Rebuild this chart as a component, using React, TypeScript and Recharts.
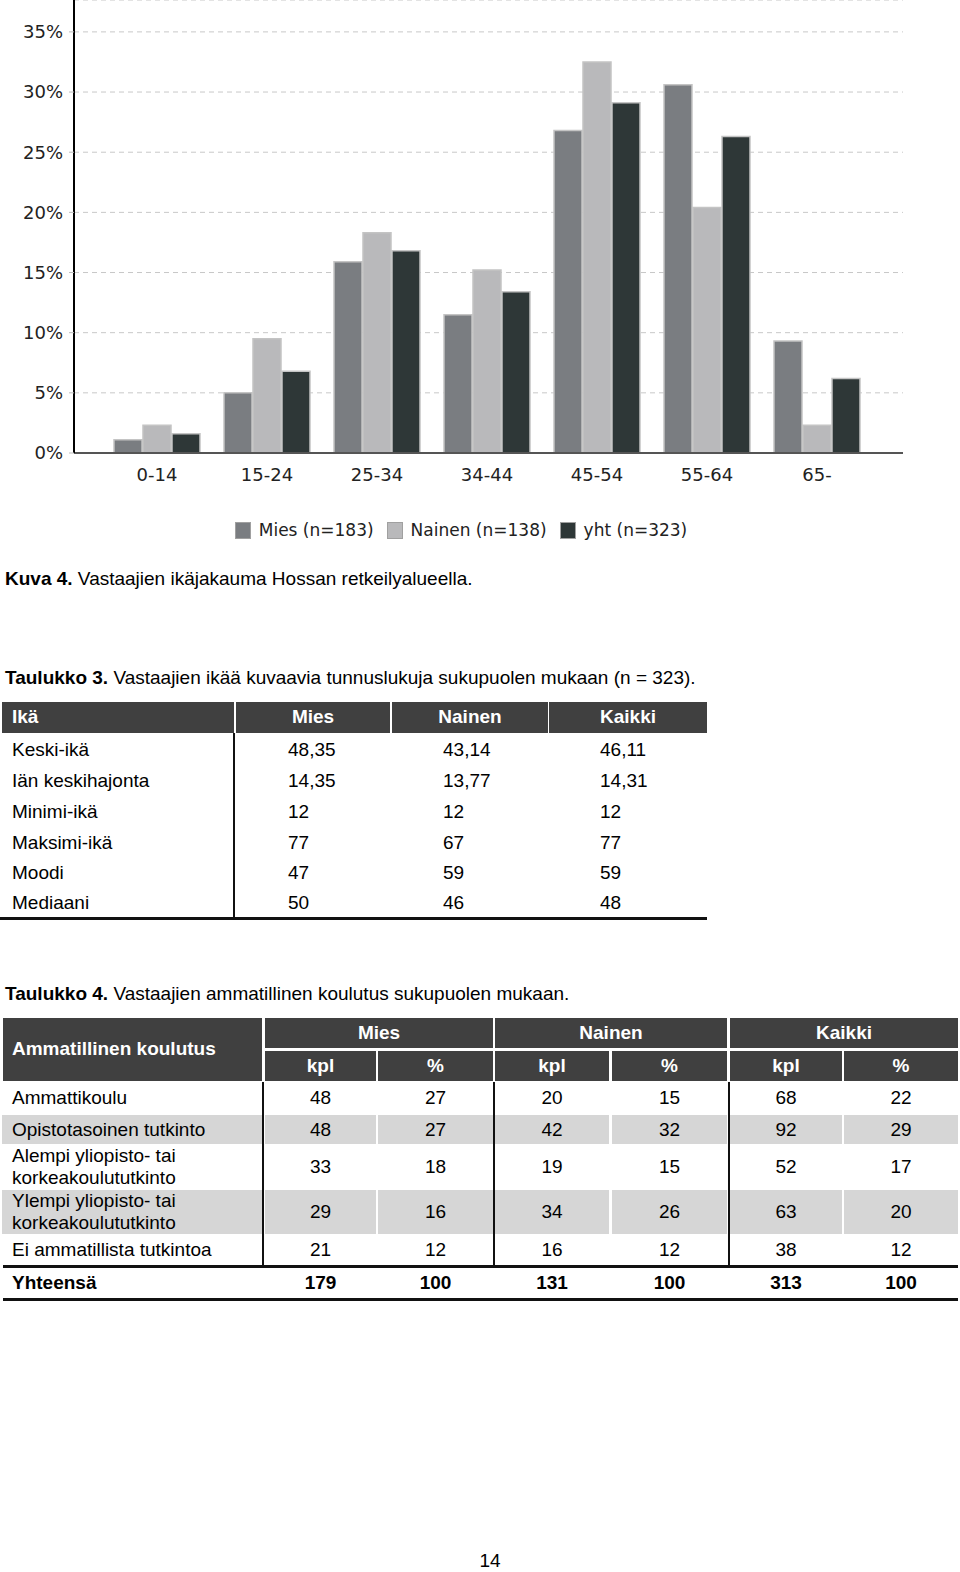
import React from 'react';
import { BarChart, Bar, XAxis, YAxis, CartesianGrid, Legend } from 'recharts';

const ageGroups = ['0-14', '15-24', '25-34', '34-44', '45-54', '55-64', '65-'];
const miesPct = [1.1, 5.0, 15.9, 11.5, 26.8, 30.6, 9.3];
const nainenPct = [2.3, 9.5, 18.3, 15.2, 32.5, 20.4, 2.3];
const yhtPct = [1.6, 6.8, 16.8, 13.4, 29.1, 26.3, 6.2];
const yTicks = [0, 5, 10, 15, 20, 25, 30, 35];

const seriesNames = ['Mies (n=183)', 'Nainen (n=138)', 'yht (n=323)'];
const seriesColors = ['#7a7d81', '#b9b9bb', '#2e3737'];

const statLabels = ['Keski-ikä', 'Iän keskihajonta', 'Minimi-ikä', 'Maksimi-ikä', 'Moodi', 'Mediaani'];
const statMies = ['48,35', '14,35', '12', '77', '47', '50'];
const statNainen = ['43,14', '13,77', '12', '67', '59', '46'];
const statKaikki = ['46,11', '14,31', '12', '77', '59', '48'];

const eduLabels = [
  ['Ammattikoulu'],
  ['Opistotasoinen tutkinto'],
  ['Alempi yliopisto- tai', 'korkeakoulututkinto'],
  ['Ylempi yliopisto- tai', 'korkeakoulututkinto'],
  ['Ei ammatillista tutkintoa'],
];
const eduMiesKpl = [48, 48, 33, 29, 21];
const eduMiesPct = [27, 27, 18, 16, 12];
const eduNainenKpl = [20, 42, 19, 34, 16];
const eduNainenPct = [15, 32, 15, 26, 12];
const eduKaikkiKpl = [68, 92, 52, 63, 38];
const eduKaikkiPct = [22, 29, 17, 20, 12];
const eduTotals = [179, 100, 131, 100, 313, 100];

const chartData = ageGroups.map((g, i) => ({
  group: g,
  mies: miesPct[i],
  nainen: nainenPct[i],
  yht: yhtPct[i],
}));

const FONT = '"Liberation Sans", Arial, sans-serif';
const AXIS_FONT = '"DejaVu Sans", Verdana, sans-serif';
const HEAD_BG = '#404040';
const ROW_GRAY = '#d6d6d6';

// text centred vertically on y
const Txt = ({ x, y, w, children, bold, align, color }: any) => (
  <div
    style={{
      position: 'absolute',
      left: x,
      top: y - 11,
      width: w,
      height: 22,
      lineHeight: '22px',
      fontSize: 19,
      fontFamily: FONT,
      fontWeight: bold ? 'bold' : 'normal',
      color: color || '#000',
      textAlign: align || 'left',
      whiteSpace: 'nowrap',
    }}
  >
    {children}
  </div>
);

const Box = ({ x1, x2, y1, y2, bg }: any) => (
  <div style={{ position: 'absolute', left: x1, top: y1, width: x2 - x1, height: y2 - y1, background: bg }} />
);

const renderLegend = () => (
  <div
    style={{
      height: 24,
      display: 'flex',
      justifyContent: 'center',
      alignItems: 'center',
      paddingRight: 25,
      fontFamily: AXIS_FONT,
      fontSize: 17,
      color: '#222',
    }}
  >
    {seriesNames.map((n, i) => (
      <div key={n} style={{ display: 'flex', alignItems: 'center', marginRight: 13 }}>
        <div style={{ width: 14, height: 15, background: seriesColors[i], border: '1px solid #a0a0a0', marginRight: 8 }} />
        <span>{n}</span>
      </div>
    ))}
  </div>
);

const AgeChart = () => (
  <BarChart width={960} height={545} data={chartData} margin={{ top: 0, right: 57, left: 0, bottom: 3 }} barGap={1}>
    <CartesianGrid vertical={false} stroke="#c8c8c8" strokeDasharray="5 4" />
    <XAxis
      dataKey="group"
      padding={{ left: 28, right: 31 }}
      axisLine={{ stroke: '#555', strokeWidth: 2 }}
      tickLine={false}
      tickSize={0}
      tickMargin={15}
      height={65}
      tick={{ fontFamily: AXIS_FONT, fontSize: 18, fill: '#222' }}
    />
    <YAxis
      domain={[0, 37.65]}
      ticks={yTicks}
      width={74}
      tickFormatter={(v) => `${v}%`}
      axisLine={{ stroke: '#000', strokeWidth: 2 }}
      tickLine={{ stroke: '#bbb' }}
      tickSize={5}
      tickMargin={6}
      tick={{ fontFamily: AXIS_FONT, fontSize: 18, fill: '#222' }}
    />
    <Legend verticalAlign="bottom" content={renderLegend} wrapperStyle={{ left: 0, width: 960 }} />
    <Bar dataKey="mies" name={seriesNames[0]} fill={seriesColors[0]} stroke="#c4c4c4" strokeWidth={1.5} barSize={28} isAnimationActive={false} />
    <Bar dataKey="nainen" name={seriesNames[1]} fill={seriesColors[1]} stroke="#c4c4c4" strokeWidth={1.5} barSize={28} isAnimationActive={false} />
    <Bar dataKey="yht" name={seriesNames[2]} fill={seriesColors[2]} stroke="#c4c4c4" strokeWidth={1.5} barSize={28} isAnimationActive={false} />
  </BarChart>
);

// Taulukko 3 layout
const t3Cols = [[2, 234], [236, 390], [392, 548], [549, 707]];
const t3RowY = [750, 781, 812, 843, 873, 903];
const t3ValX = [288, 443, 600];

// Taulukko 4 layout
const t4Sub = [[265, 376], [378, 493], [495, 609], [612, 727], [730, 842], [844, 958]];
const t4Groups = [[265, 493, 'Mies'], [495, 727, 'Nainen'], [730, 958, 'Kaikki']];
const t4Rows = [[1082, 1113], [1115, 1144], [1145, 1189], [1190, 1234], [1235, 1265]];

const Table3 = () => (
  <>
    {t3Cols.map(([a, b], i) => (
      <Box key={i} x1={a} x2={b} y1={702} y2={733} bg={HEAD_BG} />
    ))}
    <Txt x={12} y={717} bold color="#fff">Ikä</Txt>
    {['Mies', 'Nainen', 'Kaikki'].map((h, i) => (
      <Txt key={h} x={t3Cols[i + 1][0]} w={t3Cols[i + 1][1] - t3Cols[i + 1][0]} y={717} bold align="center" color="#fff">
        {h}
      </Txt>
    ))}
    {statLabels.map((l, i) => (
      <React.Fragment key={l}>
        <Txt x={12} y={t3RowY[i]}>{l}</Txt>
        <Txt x={t3ValX[0]} y={t3RowY[i]}>{statMies[i]}</Txt>
        <Txt x={t3ValX[1]} y={t3RowY[i]}>{statNainen[i]}</Txt>
        <Txt x={t3ValX[2]} y={t3RowY[i]}>{statKaikki[i]}</Txt>
      </React.Fragment>
    ))}
    <Box x1={233} x2={235} y1={733} y2={919} bg="#111" />
    <Box x1={0} x2={707} y1={917} y2={920} bg="#111" />
  </>
);

const Table4 = () => {
  const cols = [eduMiesKpl, eduMiesPct, eduNainenKpl, eduNainenPct, eduKaikkiKpl, eduKaikkiPct];
  return (
    <>
      <Box x1={3} x2={262} y1={1018} y2={1081} bg={HEAD_BG} />
      <Txt x={12} y={1049} bold color="#fff">Ammatillinen koulutus</Txt>
      {t4Groups.map(([a, b, n]: any) => (
        <React.Fragment key={n}>
          <Box x1={a} x2={b} y1={1018} y2={1048} bg={HEAD_BG} />
          <Txt x={a} w={b - a} y={1033} bold align="center" color="#fff">{n}</Txt>
        </React.Fragment>
      ))}
      {t4Sub.map(([a, b], i) => (
        <React.Fragment key={i}>
          <Box x1={a} x2={b} y1={1051} y2={1081} bg={HEAD_BG} />
          <Txt x={a} w={b - a} y={1066} bold align="center" color="#fff">{i % 2 === 0 ? 'kpl' : '%'}</Txt>
        </React.Fragment>
      ))}
      {t4Rows.map(([top, bottom], r) => {
        const cy = (top + bottom) / 2;
        const lines = eduLabels[r];
        return (
          <React.Fragment key={r}>
            {r % 2 === 1 && (
              <>
                <Box x1={2} x2={262} y1={top} y2={bottom} bg={ROW_GRAY} />
                {t4Sub.map(([a, b], i) => (
                  <Box key={i} x1={a} x2={b} y1={top} y2={bottom} bg={ROW_GRAY} />
                ))}
              </>
            )}
            {lines.length === 1 ? (
              <Txt x={12} y={cy}>{lines[0]}</Txt>
            ) : (
              <>
                <Txt x={12} y={cy - 11}>{lines[0]}</Txt>
                <Txt x={12} y={cy + 11}>{lines[1]}</Txt>
              </>
            )}
            {t4Sub.map(([a, b], i) => (
              <Txt key={i} x={a} w={b - a} y={cy} align="center">{cols[i][r]}</Txt>
            ))}
          </React.Fragment>
        );
      })}
      {[263, 494, 729].map((x) => (
        <Box key={x} x1={x - 1} x2={x + 1} y1={1082} y2={1266} bg="#111" />
      ))}
      <Box x1={3} x2={958} y1={1265} y2={1268} bg="#111" />
      <Txt x={12} y={1283} bold>Yhteensä</Txt>
      {t4Sub.map(([a, b], i) => (
        <Txt key={i} x={a} w={b - a} y={1283} bold align="center">{eduTotals[i]}</Txt>
      ))}
      <Box x1={3} x2={958} y1={1298} y2={1301} bg="#111" />
    </>
  );
};

export default function App() {
  return (
    <div style={{ position: 'absolute', left: 0, top: 0, width: 960, height: 1572, background: '#fff', overflow: 'hidden' }}>
      <div style={{ position: 'absolute', left: 0, top: 0 }}>
        <AgeChart />
      </div>
      <Txt x={5} y={579}>
        <b>Kuva 4.</b> Vastaajien ikäjakauma Hossan retkeilyalueella.
      </Txt>
      <Txt x={5} y={678}>
        <b>Taulukko 3.</b> Vastaajien ikää kuvaavia tunnuslukuja sukupuolen mukaan (n = 323).
      </Txt>
      <Table3 />
      <Txt x={5} y={994}>
        <b>Taulukko 4.</b> Vastaajien ammatillinen koulutus sukupuolen mukaan.
      </Txt>
      <Table4 />
      <Txt x={440} w={100} y={1561} align="center">14</Txt>
    </div>
  );
}
